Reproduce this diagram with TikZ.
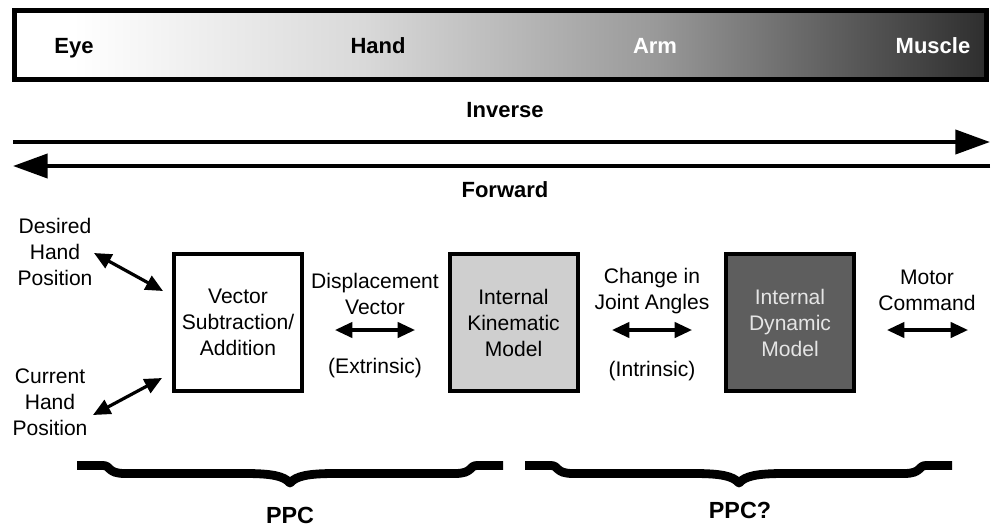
\documentclass[tikz,border=0pt]{standalone}
\usepackage{fontspec}
\setmainfont{Liberation Sans}
\usetikzlibrary{arrows.meta}
\definecolor{sA}{gray}{0.85}
\definecolor{sB}{gray}{0.60}
\definecolor{sC}{gray}{0.40}
\definecolor{sD}{gray}{0.18}
\definecolor{kinfill}{gray}{0.81}
\definecolor{dynfill}{gray}{0.37}
\definecolor{dyntext}{gray}{0.9}
\pgfdeclarehorizontalshading{barshade}{100bp}{color(0bp)=(white); color(28bp)=(white); color(43bp)=(sA); color(58bp)=(sB); color(66bp)=(sC); color(75bp)=(sD); color(100bp)=(sD)}
\tikzset{
  txt/.style={font=\fontsize{15.8}{19.5}\selectfont, align=center, inner sep=0pt},
  lbl/.style={font=\fontsize{16.5}{20}\selectfont\bfseries, inner sep=0pt, anchor=base},
  ppclbl/.style={font=\fontsize{17.5}{20}\selectfont\bfseries, inner sep=0pt, anchor=base},
  stagebox/.style={draw, line width=3pt, minimum width=96pt, minimum height=102.75pt, txt},
  dbl/.style={line width=2.4pt, {Triangle[length=13pt,width=11.5pt]}-{Triangle[length=13pt,width=11.5pt]}},
  bigarrow/.style={line width=3pt, -{Triangle[length=26pt,width=18pt]}},
  bracestroke/.style={line width=6.6pt, line join=round}
}
\newcommand\ppcbrace[3]{%
  \draw[bracestroke] (#1,465.5) -- ({#1+26},465.5)
    .. controls ({#1+34},465.5) and ({#1+30},473.5) .. ({#1+48},473.5)
    -- ({#3-45},473.5)
    .. controls ({#3-18},473.5) and ({#3-6},476) .. (#3,483)
    .. controls ({#3+6},476) and ({#3+18},473.5) .. ({#3+45},473.5)
    -- ({#2-48},473.5)
    .. controls ({#2-30},473.5) and ({#2-34},465.5) .. ({#2-26},465.5)
    -- (#2,465.5);}
\begin{document}
\begin{tikzpicture}[x=0.75pt,y=-0.75pt]
\useasboundingbox (0,0) rectangle (992,529);
% gradient bar
\shadedraw[shading=barshade, line width=3.6pt] (14.5,10.5) rectangle (986.5,79.5);
\node[lbl] (eye) at (74,53) {Eye};
\node[lbl] (hand) at (378,53) {Hand};
\node[lbl, text=white] (arm) at (655,53) {Arm};
\node[lbl, text=white] (muscle) at (933,53) {Muscle};
% inverse / forward
\node[lbl] (inverse) at (505,117) {Inverse};
\node[lbl] (forward) at (505,197) {Forward};
\coordinate (inv1) at (13,142);
\coordinate (inv2) at (990,142);
\coordinate (fwd1) at (990,166);
\coordinate (fwd2) at (13,166);
\draw[bigarrow] (inv1) -- (inv2);
\draw[bigarrow] (fwd1) -- (fwd2);
% left labels
\node[txt] (desired) at (55,252) {Desired\\Hand\\Position};
\node[txt] (current) at (50,402) {Current\\Hand\\Position};
% boxes
\node[stagebox] (vec) at (238,322.5) {Vector\\Subtraction/\\Addition};
\node[stagebox, fill=kinfill] (kin) at (513.5,322.5) {Internal\\Kinematic\\Model};
\node[stagebox, fill=dynfill, text=dyntext] (dyn) at (790,322.5) {Internal\\Dynamic\\Model};
% middle labels
\node[txt] (disp) at (375,293.5) {Displacement\\Vector};
\node[txt] (extr) at (375,368) {(Extrinsic)};
\node[txt] (change) at (652,291) {Change in\\Joint Angles};
\node[txt] (intr) at (652,371) {(Intrinsic)};
\node[txt] (motor) at (927,290) {Motor\\Command};
% arrows
\coordinate (d1) at (94,253);
\coordinate (d2) at (163,291);
\coordinate (c1) at (93,415);
\coordinate (c2) at (162,378);
\coordinate (v1) at (335,330);
\coordinate (v2) at (415,330);
\coordinate (j1) at (612,330);
\coordinate (j2) at (692,330);
\coordinate (m1) at (887,330);
\coordinate (m2) at (968,330);
\draw[dbl] (d1) -- (d2);
\draw[dbl] (c1) -- (c2);
\draw[dbl] (v1) -- (v2);
\draw[dbl] (j1) -- (j2);
\draw[dbl] (m1) -- (m2);
% braces
\ppcbrace{77}{503}{290}
\ppcbrace{525}{952}{739}
\node[ppclbl] (ppc) at (290,523) {PPC};
\node[ppclbl] (ppcq) at (740,518) {PPC?};
\end{tikzpicture}
\end{document}
